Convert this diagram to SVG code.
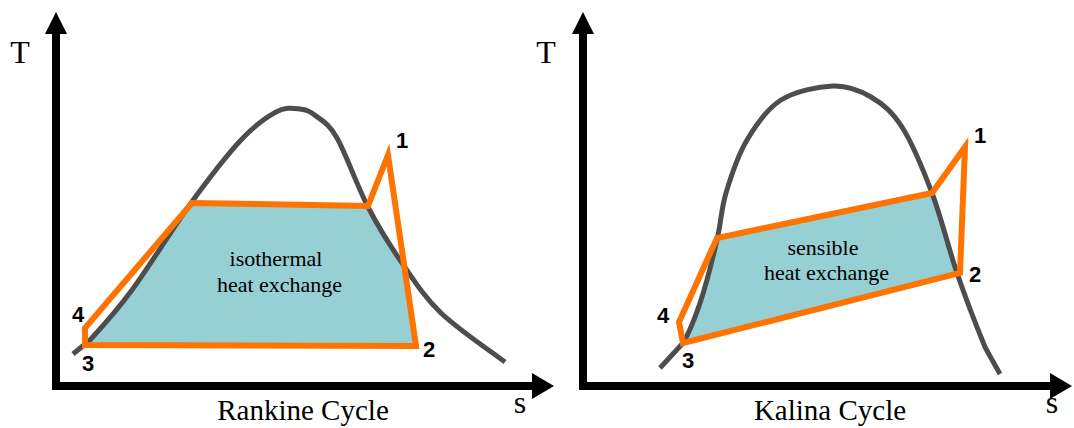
<svg xmlns="http://www.w3.org/2000/svg" width="1074" height="428" viewBox="0 0 1074 428">
<style>
.fill{fill:#96d0d4;stroke:none}
.dome{fill:none;stroke:#4d4d4d;stroke-width:5;stroke-linejoin:round}
.cycle{fill:none;stroke:#ff7300;stroke-width:6;stroke-linejoin:miter}
.axis{stroke:#000;stroke-width:8;fill:none}
.head{fill:#000}
.serif{font-family:"Liberation Serif","Times New Roman",serif;fill:#000}
.lbl{font-family:"Liberation Sans",Arial,sans-serif;font-weight:bold;font-size:22px;fill:#000}
.ax{font-size:32px;text-anchor:middle}
.cap{font-size:29px;text-anchor:middle}
.in{font-size:22px;text-anchor:middle}
</style>
<g id="rankine">
  <path class="fill" d="M85,345 L90,340 C99.8,329.3 115.2,312.8 132,290 C148.8,267.2 172.8,228 191,203 L368,206 C378.8,227.8 389.8,245.3 402,263 L404,266 L416,346 Z"/>
  <path class="dome" d="M73,354 L90,340 C99.8,329.3 115.2,312.8 132,290 C148.8,267.2 172.8,228 191,203 C209.2,178 226.8,155.2 241,140 C255.2,124.8 266.2,117.2 276,112 C285.8,106.8 293.3,108.3 300,109 C306.7,109.7 309.8,111.2 316,116 C322.2,120.8 328.3,122.8 337,138 C345.7,153.2 357.2,186.2 368,207 C378.8,227.8 389.8,245.3 402,263 C414.2,280.7 423.8,296.5 441,313 C458.2,329.5 494.3,353.8 505,362"/>
  <polygon class="cycle" points="85,345 85,328 192,203 368,206 388,155 416,346"/>
  <text class="serif in" x="276" y="266">isothermal</text>
  <text class="serif in" x="279.5" y="292">heat exchange</text>
  <text class="lbl" x="396" y="148">1</text>
  <text class="lbl" x="423" y="357">2</text>
  <text class="lbl" x="82" y="371">3</text>
  <text class="lbl" x="72" y="322">4</text>
</g>
<g id="kalina">
  <path class="fill" d="M683,343 C689.8,331.7 695.3,317.2 701,300 C706.7,282.8 712.8,257.8 717,240 L932,193 C941.2,217.3 948.2,247.3 957,273 L960,273 Z"/>
  <path class="dome" d="M660,368 L683,343 C689.8,331.7 695.3,317.2 701,300 C706.7,282.8 712.8,257.8 717,240 C721.2,222.2 721,209.7 726,193 C731,176.3 737.8,155.5 747,140 C756.2,124.5 766.7,109 781,100 C795.3,91 818,86.5 833,86 C848,85.5 859.5,90.2 871,97 C882.5,103.8 891.8,111 902,127 C912.2,143 922.8,168.7 932,193 C941.2,217.3 948.2,247.3 957,273 C965.8,298.7 979.2,332.8 985,347 L991,358 L1000,374"/>
  <polygon class="cycle" points="683,343 679,322 717,238 932,193 965,147 960,273"/>
  <text class="serif in" x="823" y="255">sensible</text>
  <text class="serif in" x="826.5" y="280">heat exchange</text>
  <text class="lbl" x="974" y="143">1</text>
  <text class="lbl" x="969" y="282">2</text>
  <text class="lbl" x="682" y="368">3</text>
  <text class="lbl" x="657" y="323">4</text>
</g>
<g id="axes">
  <line class="axis" x1="56" y1="390" x2="56" y2="30"/>
  <polygon class="head" points="45,34 56,12 67,34"/>
  <line class="axis" x1="52" y1="386" x2="536" y2="386"/>
  <polygon class="head" points="532,373 554,386 532,399"/>
  <line class="axis" x1="583" y1="390" x2="583" y2="30"/>
  <polygon class="head" points="572,34 583,12 594,34"/>
  <line class="axis" x1="579" y1="386" x2="1054" y2="386"/>
  <polygon class="head" points="1050,373 1072,386 1050,399"/>
  <text class="serif ax" x="20" y="63">T</text>
  <text class="serif ax" x="520" y="413">s</text>
  <text class="serif ax" x="546" y="63">T</text>
  <text class="serif ax" x="1052" y="413">s</text>
  <text class="serif cap" x="303" y="420">Rankine Cycle</text>
  <text class="serif cap" x="830" y="420">Kalina Cycle</text>
</g>
</svg>
